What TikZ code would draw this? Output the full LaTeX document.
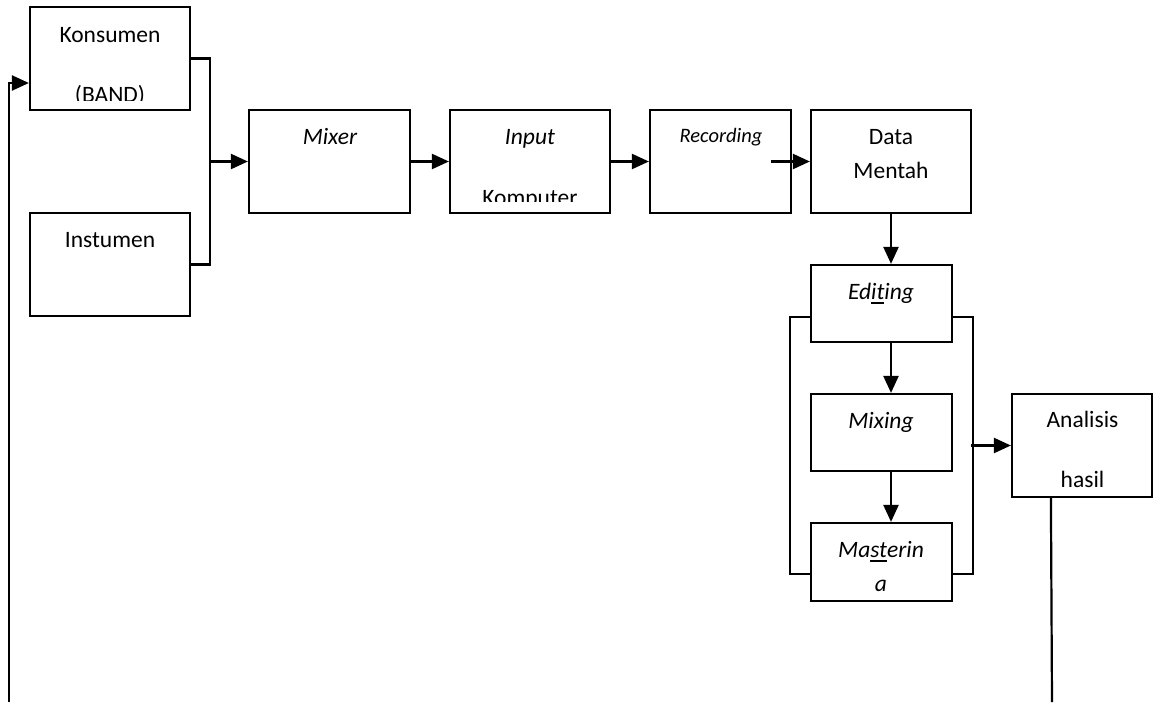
\documentclass[tikz,border=0pt]{standalone}
\usepackage{fontspec}
\setmainfont{Carlito}
\usetikzlibrary{arrows.meta,calc}
\newcommand\myul[1]{\setbox0\hbox{#1}\rlap{\rule[-4.5pt]{\wd0}{1.6pt}}\box0}
\begin{document}
\begin{tikzpicture}[x=1pt,y=-1pt, line width=2.2pt,
 box/.style={draw, rectangle, inner sep=0pt, line width=2.2pt},
 txt/.style={anchor=base, inner sep=0pt, font=\fontsize{23.5}{28}\selectfont},
 txti/.style={anchor=base, inner sep=0pt, font=\fontsize{23.5}{28}\selectfont\itshape},
 arr/.style={-{Triangle[length=17pt,width=15pt]}}]
\useasboundingbox (0,0) rectangle (1154,702);
% boxes
\node[box, minimum width=160pt, minimum height=103pt] (kons)   at (110,58.5) {};
\node[box, minimum width=160pt, minimum height=103pt] (inst)   at (110,264.5) {};
\node[box, minimum width=161pt, minimum height=103pt] (mixer)  at (329.5,161.5) {};
\node[box, minimum width=160pt, minimum height=103pt] (input)  at (530,161.5) {};
\node[box, minimum width=141pt, minimum height=103pt] (rec)    at (720.5,161.5) {};
\node[box, minimum width=160pt, minimum height=103pt] (data)   at (891,161.5) {};
\node[box, minimum width=141pt, minimum height=77pt]  (edit)   at (881.5,303.5) {};
\node[box, minimum width=141pt, minimum height=77pt]  (mixing) at (881.5,432.5) {};
\node[box, minimum width=141pt, minimum height=78pt]  (master) at (881.5,562) {};
\node[box, minimum width=140pt, minimum height=103pt] (anal)   at (1082,445.5) {};
% texts
\begin{scope}
\clip (30,7) rectangle (190,100);
\node[txt] (t1) at (110,42) {Konsumen};
\node[txt] (t2) at (110,102) {(BAND)};
\end{scope}
\node[txt] (t3) at (110,247) {Instumen};
\node[txti] (t4) at (330,144) {Mixer};
\begin{scope}
\clip (450,110) rectangle (610,201);
\node[txti] (t5) at (530,144) {Input};
\node[txt] (t6) at (530,205) {Komputer};
\end{scope}
\node[anchor=base, inner sep=0pt, font=\fontsize{20.5}{24}\selectfont\itshape] (t7) at (721,142) {Recording};
\node[txt] (t8) at (891,144) {Data};
\node[txt] (t9) at (891,178) {Mentah};
\node[txti] (t10) at (881,299) {Ed\myul{it}ing};
\node[txti] (t11) at (881,428) {Mixing};
\node[txti] (t12) at (881,557) {Ma\myul{st}erin};
\node[txti] (t13) at (881,591) {a};
\node[txt] (t14) at (1082.5,427) {Analisis};
\node[txt] (t15) at (1082.5,487) {hasil};
% connectors
\coordinate (j1) at (210,161.5);
\draw (kons.east) -| (j1) |- (inst.east);
\draw[arr] (j1) -- (mixer.west);
\draw[arr] (mixer) -- (input);
\draw[arr] (input) -- (rec);
\draw[arr] ($(rec.east)+(-21,0)$) -- (data.west);
\draw[arr] (data.south) -- (data.south |- edit.north);
\draw[arr] (edit.south -| data.south) -- (mixing.north -| data.south);
\draw[arr] (mixing.south -| data.south) -- (master.north -| data.south);
\draw (edit.west |- 0,317) -- ++(-20,0) |- (master.west |- 0,574);
\draw (edit.east |- 0,317) -- ++(20,0) |- (master.east |- 0,574);
\coordinate (j2) at (971,445.5);
\draw[arr] (j2) -- (anal.west);
\coordinate (fb1) at (1052,702);
\draw ($(anal.south west)+(40,0)$) -- (fb1);
\coordinate (fb2) at (9,702);
\draw[arr] (fb2) |- (kons.west |- 0,83);
\end{tikzpicture}
\end{document}
